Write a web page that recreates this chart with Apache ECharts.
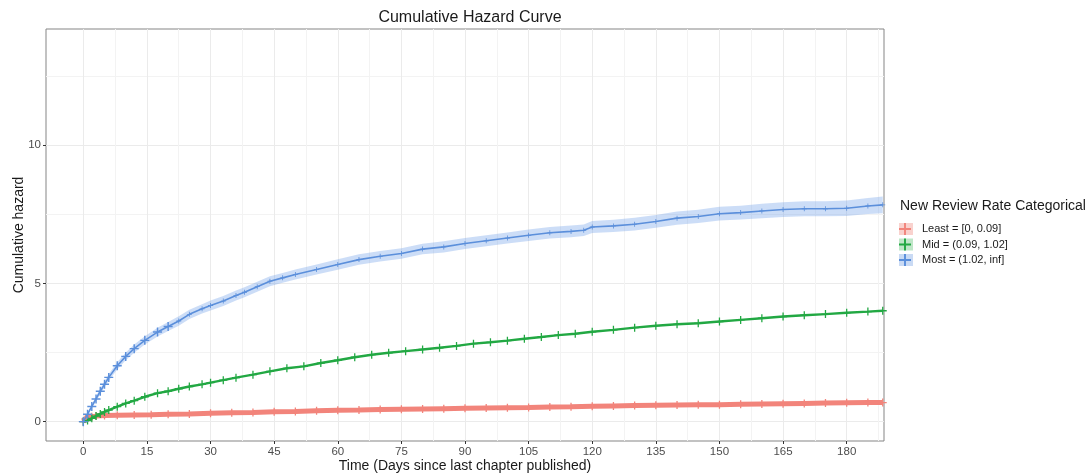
<!DOCTYPE html>
<html>
<head>
<meta charset="utf-8">
<script src="https://cdn.jsdelivr.net/npm/echarts@6/dist/echarts.min.js"></script>
<style>
  html, body { margin: 0; padding: 0; background: #ffffff; }
  #main { width: 1089px; height: 473px; }
</style>
</head>
<body>
<div id="main"></div>
<script>
// tick labels
var xTicks = [0, 15, 30, 45, 60, 75, 90, 105, 120, 135, 150, 165, 180];
var xMinor = [7.5, 22.5, 37.5, 52.5, 67.5, 82.5, 97.5, 112.5, 127.5, 142.5, 157.5, 172.5, 187.5];
var yTicks = [0, 5, 10];
var yMinor = [2.5, 7.5, 12.5];

var seriesNames = ["Least = [0, 0.09]", "Mid = (0.09, 1.02]", "Most = (1.02, inf]"];

// Least
var leastDays = [0, 0.5, 1, 2, 3, 5, 8, 12, 16, 20, 25, 30, 35, 40, 45, 50, 55, 60, 65, 70, 75, 80, 85, 90, 95, 100,
  105, 110, 115, 120, 125, 130, 135, 140, 145, 150, 155, 160, 165, 170, 175, 180, 185, 188.5];
var leastVals = [0, 0.1, 0.15, 0.18, 0.2, 0.22, 0.23, 0.24, 0.25, 0.27, 0.28, 0.3, 0.32, 0.33, 0.36, 0.37, 0.39, 0.41, 0.42, 0.44, 0.45, 0.46, 0.47, 0.48, 0.49, 0.5,
  0.51, 0.53, 0.54, 0.56, 0.57, 0.58, 0.59, 0.6, 0.61, 0.61, 0.63, 0.64, 0.65, 0.66, 0.67, 0.68, 0.69, 0.69];

// Mid
var midDays = [0, 1, 2, 3, 4, 5, 6, 8, 10, 12, 14.5, 17.5, 20, 22.5, 25, 28, 30, 33, 36, 40, 44, 48, 52, 56, 60, 64, 68, 72, 76, 80,
  84, 88, 92, 96, 100, 104, 108, 112, 116, 120, 125, 130, 135, 140, 145, 150, 155, 160, 165, 170, 175, 180, 185, 188.5];
var midVals = [0, 0.04, 0.12, 0.2, 0.28, 0.35, 0.42, 0.54, 0.66, 0.76, 0.9, 1.03, 1.1, 1.19, 1.27, 1.35, 1.41, 1.5, 1.59, 1.7, 1.82, 1.93, 2.0, 2.12, 2.22, 2.33, 2.42, 2.49, 2.55, 2.61,
  2.67, 2.74, 2.82, 2.87, 2.93, 3.0, 3.06, 3.13, 3.18, 3.25, 3.32, 3.4, 3.47, 3.52, 3.56, 3.62, 3.68, 3.74, 3.8, 3.85, 3.89, 3.94, 3.98, 4.01];

// Most, with confidence band
var mostDays = [0, 1, 2, 3, 4, 5, 6, 8, 10, 12, 14.5, 17.5, 20, 22.5, 25, 28, 30, 33, 36, 38, 41, 44, 47, 50, 55, 60, 65, 70, 75, 80,
  85, 90, 95, 100, 105, 110, 115, 118, 120, 125, 130, 135, 140, 145, 150, 155, 160, 165, 170, 175, 180, 185, 188.5];
var mostVals = [0, 0.27, 0.55, 0.82, 1.1, 1.35, 1.6, 2.02, 2.36, 2.64, 2.94, 3.24, 3.44, 3.64, 3.88, 4.08, 4.2, 4.36, 4.56, 4.68, 4.88, 5.08, 5.2, 5.32, 5.5, 5.68, 5.86, 5.98, 6.08, 6.24,
  6.32, 6.44, 6.54, 6.64, 6.74, 6.83, 6.88, 6.92, 7.04, 7.08, 7.14, 7.24, 7.36, 7.42, 7.52, 7.56, 7.62, 7.67, 7.7, 7.7, 7.72, 7.8, 7.84];
var mostUpper = [0, 0.32, 0.62, 0.91, 1.2, 1.46, 1.72, 2.15, 2.5, 2.79, 3.09, 3.4, 3.6, 3.81, 4.05, 4.25, 4.38, 4.54, 4.74, 4.86, 5.06, 5.26, 5.38, 5.5, 5.68, 5.87, 6.05, 6.17, 6.27, 6.43,
  6.52, 6.64, 6.74, 6.84, 6.95, 7.04, 7.09, 7.13, 7.26, 7.3, 7.37, 7.47, 7.6, 7.66, 7.77, 7.81, 7.88, 7.93, 7.97, 7.97, 8.0, 8.09, 8.14];
var mostLower = [0, 0.22, 0.48, 0.73, 1.0, 1.24, 1.48, 1.89, 2.22, 2.49, 2.79, 3.08, 3.28, 3.47, 3.71, 3.91, 4.02, 4.18, 4.38, 4.5, 4.7, 4.9, 5.02, 5.14, 5.32, 5.49, 5.67, 5.79, 5.89, 6.05,
  6.12, 6.24, 6.34, 6.44, 6.53, 6.62, 6.67, 6.71, 6.82, 6.86, 6.91, 7.01, 7.12, 7.18, 7.27, 7.31, 7.36, 7.4, 7.43, 7.43, 7.44, 7.51, 7.54];

var FONT = "Liberation Sans, Arial, Helvetica, sans-serif";
var PLUS = "path://M0,4.2H10V5.8H0Z M4.2,0H5.8V10H4.2Z";
var colors = ["#F2847B", "#22A843", "#5B8FDB"];
var paleColors = ["#F9D2CE", "#BFE6C8", "#C9DAF4"];

function pairs(days, vals) {
  return days.map(function(d, i) { return [d, vals[i]]; });
}

var chart = echarts.init(document.getElementById("main"));

chart.setOption({
  backgroundColor: "#ffffff",
  animation: false,
  title: [
    {
      text: "Cumulative Hazard Curve",
      left: 465,
      top: 5,
      textAlign: "center",
      textStyle: { fontFamily: FONT, fontSize: 16, fontWeight: "normal", color: "#1a1a1a" }
    },
    {
      text: "New Review Rate Categorical",
      left: 900,
      top: 199,
      padding: 0,
      textStyle: { fontFamily: FONT, fontSize: 14, fontWeight: "normal", color: "#1a1a1a" }
    }
  ],
  legend: [
    {
      // pale key background with label
      left: 899,
      top: 223,
      orient: "vertical",
      padding: 0,
      itemWidth: 14,
      itemHeight: 12,
      itemGap: 3.5,
      selectedMode: false,
      textStyle: { fontFamily: FONT, fontSize: 11, color: "#1a1a1a", padding: [0, 0, 0, 4] },
      data: seriesNames.map(function(n, i) {
        return { name: n, icon: "rect", itemStyle: { color: paleColors[i] } };
      })
    },
    {
      // plus sign drawn on top of the key
      left: 899,
      top: 223,
      orient: "vertical",
      padding: 0,
      itemWidth: 14,
      itemHeight: 12,
      itemGap: 3.5,
      selectedMode: false,
      z: 10,
      textStyle: { fontFamily: FONT, fontSize: 11, color: "rgba(0,0,0,0)", padding: [0, 0, 0, 4] },
      data: seriesNames.map(function(n, i) {
        return { name: n, icon: PLUS, itemStyle: { color: colors[i] } };
      })
    }
  ],
  grid: {
    left: 46,
    right: 205,
    top: 29,
    bottom: 32,
    outerBoundsMode: "none",
    containLabel: false,
    show: true,
    borderColor: "#858585",
    borderWidth: 1,
    backgroundColor: "#ffffff"
  },
  xAxis: [
    {
      type: "value",
      min: -8.8,
      max: 188.8,
      name: "Time (Days since last chapter published)",
      nameLocation: "middle",
      nameGap: 18,
      nameMoveOverlap: false,
      nameTextStyle: { fontFamily: FONT, fontSize: 14, color: "#1a1a1a" },
      axisLine: { show: false, onZero: false },
      axisTick: { show: true, length: 3, customValues: xTicks, lineStyle: { color: "#333333" } },
      axisLabel: { customValues: xTicks, fontFamily: FONT, fontSize: 11.5, color: "#4d4d4d", margin: 5 },
      splitLine: { show: true, lineStyle: { color: "#ebebeb", width: 1 } }
    },
    {
      // minor grid
      type: "value",
      min: -8.8,
      max: 188.8,
      axisLine: { show: false, onZero: false },
      axisTick: { show: false, customValues: xMinor },
      axisLabel: { show: false, customValues: xMinor },
      splitLine: { show: true, lineStyle: { color: "#f3f3f3", width: 1 } }
    }
  ],
  yAxis: [
    {
      type: "value",
      min: -0.7,
      max: 14.2,
      name: "Cumulative hazard",
      nameLocation: "middle",
      nameGap: 20,
      nameMoveOverlap: false,
      nameRotate: 90,
      nameTextStyle: { fontFamily: FONT, fontSize: 14, color: "#1a1a1a" },
      axisLine: { show: false, onZero: false },
      axisTick: { show: true, length: 3, customValues: yTicks, lineStyle: { color: "#333333" } },
      axisLabel: { customValues: yTicks, fontFamily: FONT, fontSize: 11.5, color: "#4d4d4d", margin: 5 },
      splitLine: { show: true, lineStyle: { color: "#ebebeb", width: 1 } }
    },
    {
      type: "value",
      min: -0.7,
      max: 14.2,
      axisLine: { show: false, onZero: false },
      axisTick: { show: false, customValues: yMinor },
      axisLabel: { show: false, customValues: yMinor },
      splitLine: { show: true, lineStyle: { color: "#f3f3f3", width: 1 } }
    }
  ],
  series: [
    {
      name: seriesNames[2],
      type: "custom",
      silent: true,
      z: 1,
      data: [[0, 0]],
      renderItem: function(params, api) {
        var pts = [];
        for (var i = 0; i < mostDays.length; i++) pts.push(api.coord([mostDays[i], mostUpper[i]]));
        for (var j = mostDays.length - 1; j >= 0; j--) pts.push(api.coord([mostDays[j], mostLower[j]]));
        return { type: "polygon", shape: { points: pts }, style: { fill: "rgba(120,165,235,0.38)" } };
      }
    },
    {
      name: seriesNames[0],
      type: "line",
      z: 3,
      data: pairs(leastDays, leastVals),
      showSymbol: true,
      symbol: PLUS,
      symbolSize: 8,
      itemStyle: { color: colors[0] },
      lineStyle: { color: colors[0], width: 5 }
    },
    {
      name: seriesNames[1],
      type: "line",
      z: 4,
      data: pairs(midDays, midVals),
      showSymbol: true,
      symbol: PLUS,
      symbolSize: 8,
      itemStyle: { color: colors[1] },
      lineStyle: { color: colors[1], width: 2.4 }
    },
    {
      name: seriesNames[2],
      type: "line",
      z: 5,
      data: pairs(mostDays, mostVals),
      showSymbol: true,
      symbol: PLUS,
      symbolSize: function(v) { return v[0] < 22 ? 9 : 5; },
      itemStyle: { color: colors[2] },
      lineStyle: { color: colors[2], width: 1.6 }
    }
  ]
});
</script>
</body>
</html>
